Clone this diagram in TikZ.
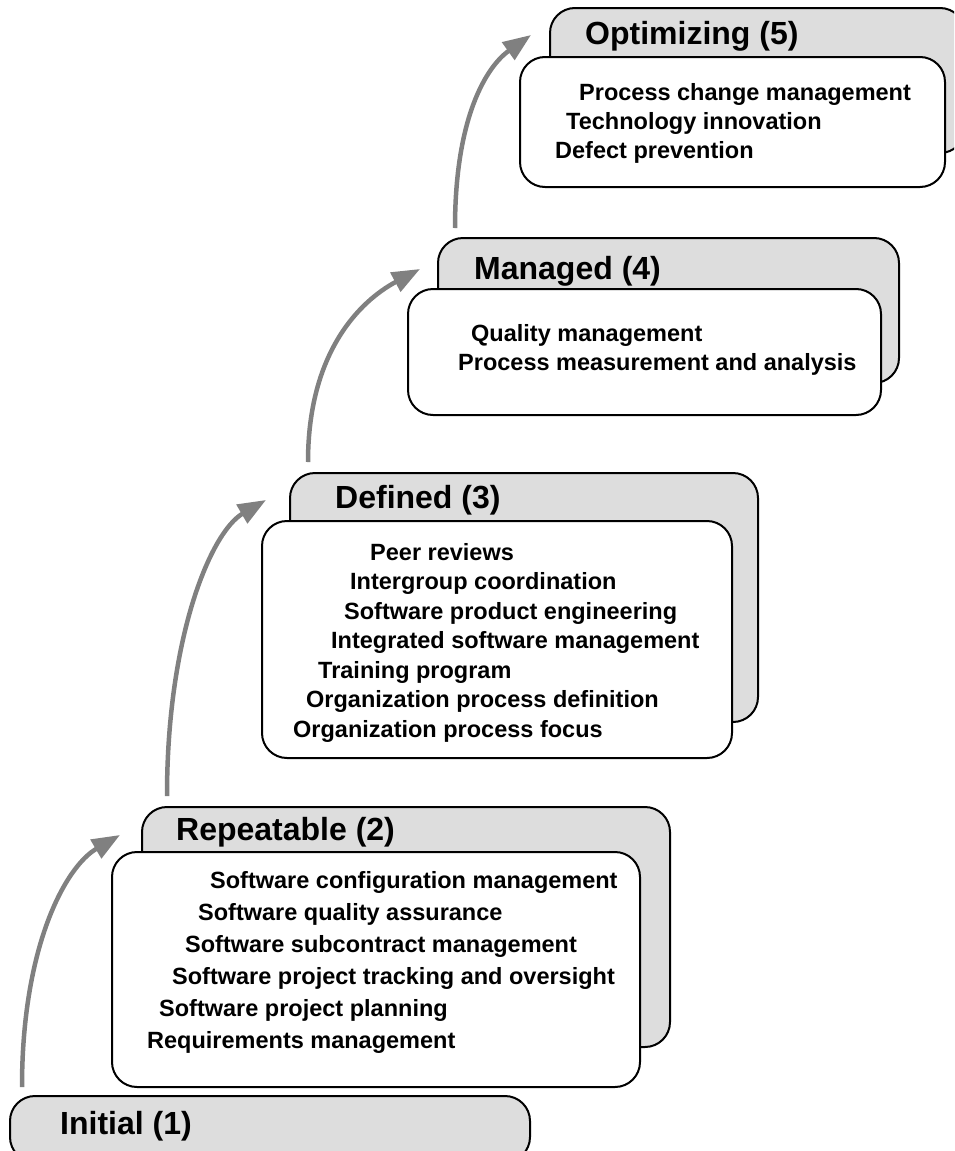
\documentclass[tikz,border=0pt]{standalone}
\usepackage{fontspec}
\setmainfont{Liberation Sans}
\usetikzlibrary{arrows.meta}
\definecolor{backgray}{HTML}{DDDDDD}
\definecolor{arrowgray}{HTML}{808080}
\tikzset{
  backbox/.style={draw=black, line width=2pt, fill=backgray, rounded corners=25pt},
  frontbox/.style={draw=black, line width=2pt, fill=white, rounded corners=25pt},
  leveltitle/.style={anchor=base west, inner sep=0pt, font=\bfseries\fontsize{32}{38}\selectfont},
  kpa/.style={anchor=base west, inner sep=0pt, font=\bfseries\fontsize{23.5}{28}\selectfont},
  uparrow/.style={draw=arrowgray, line width=4.5pt, -{Triangle[length=28pt,width=21pt]}},
}
\begin{document}
\begin{tikzpicture}[x=1pt,y=-1pt]
\useasboundingbox (0,0) rectangle (954,1151);
\clip (0,0) rectangle (954,1151);

% Initial (1)
\draw[backbox] (10,1096) rectangle (530,1162);
\node[leveltitle] (t1) at (60,1134) {Initial (1)};

% Repeatable (2)
\draw[backbox] (142,807) rectangle (670,1047);
\draw[frontbox] (112,852) rectangle (640,1087);
\node[leveltitle] (t2) at (176,840) {Repeatable (2)};
\node[kpa] (r1) at (210,888) {Software configuration management};
\node[kpa] (r2) at (198,920) {Software quality assurance};
\node[kpa] (r3) at (185,952) {Software subcontract management};
\node[kpa] (r4) at (172,984) {Software project tracking and oversight};
\node[kpa] (r5) at (159,1016) {Software project planning};
\node[kpa] (r6) at (147,1048) {Requirements management};

% Defined (3)
\draw[backbox] (290,473) rectangle (758,722);
\draw[frontbox] (262,521) rectangle (732,758);
\node[leveltitle] (t3) at (335,508) {Defined (3)};
\node[kpa] (d1) at (370,560) {Peer reviews};
\node[kpa] (d2) at (350,589.5) {Intergroup coordination};
\node[kpa] (d3) at (344,619) {Software product engineering};
\node[kpa] (d4) at (331,648.5) {Integrated software management};
\node[kpa] (d5) at (318,678) {Training program};
\node[kpa] (d6) at (306,707.5) {Organization process definition};
\node[kpa] (d7) at (293,737) {Organization process focus};

% Managed (4)
\draw[backbox] (438,238) rectangle (899,383);
\draw[frontbox] (408,289) rectangle (881,415);
\node[leveltitle] (t4) at (474,279) {Managed (4)};
\node[kpa] (m1) at (471,341) {Quality management};
\node[kpa] (m2) at (458,370) {Process measurement and analysis};

% Optimizing (5)
\draw[backbox] (550,8) rectangle (965,153);
\draw[frontbox] (520,57) rectangle (945,187);
\node[leveltitle] (t5) at (585,44) {Optimizing (5)};
\node[kpa] (o1) at (579,100) {Process change management};
\node[kpa] (o2) at (566,129) {Technology innovation};
\node[kpa] (o3) at (555,158) {Defect prevention};

% arrows
\coordinate (a1s) at (22,1087);
\coordinate (a1e) at (120,835);
\coordinate (a2s) at (167,796);
\coordinate (a2e) at (266,500);
\coordinate (a3s) at (308,462);
\coordinate (a3e) at (420,269);
\coordinate (a4s) at (455,228);
\coordinate (a4e) at (531,35);
\draw[uparrow] (a1s) .. controls +(0,-140) and +(-55,32) .. (a1e);
\draw[uparrow] (a2s) .. controls +(0,-160) and +(-55,32) .. (a2e);
\draw[uparrow] (a3s) .. controls +(0,-110) and +(-60,32) .. (a3e);
\draw[uparrow] (a4s) .. controls +(0,-110) and +(-45,32) .. (a4e);
\end{tikzpicture}
\end{document}
